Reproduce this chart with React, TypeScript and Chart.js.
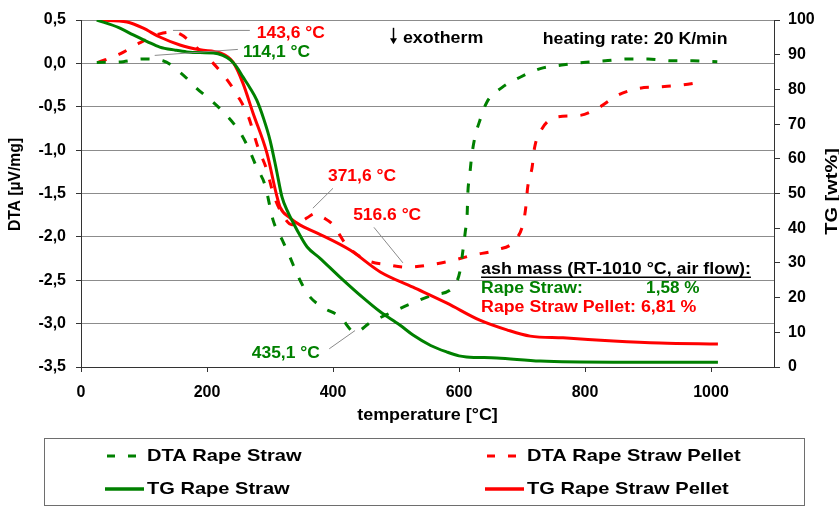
import React, { useEffect, useRef } from 'react';
import { Chart, registerables } from 'chart.js';

Chart.register(...registerables);

// ---------- data ----------
const tgStrawT = [25, 60, 83, 105, 125, 150, 168, 190, 210, 225, 237, 247, 257, 268, 279, 290, 300, 310, 319, 327, 337, 348, 359, 379, 411, 448, 475, 506, 527, 555, 581, 600, 612, 660, 729, 845, 930, 1011];
const tgStrawV = [100, 97.8, 95.7, 93.8, 92.2, 91.3, 90.8, 90.6, 90.5, 89.8, 88.5, 86.5, 83.6, 80.5, 76.9, 71.5, 65.4, 57, 49, 45.2, 41.5, 37.8, 34.6, 31.4, 25.9, 19.9, 15.9, 12.1, 9.2, 6.2, 4.3, 3.2, 2.9, 2.6, 1.7, 1.4, 1.4, 1.4];

const tgPelletT = [30, 73, 98, 125, 157, 189, 221, 241, 257, 273, 295, 310, 316, 332, 348, 375, 427, 475, 527, 581, 633, 676, 713, 765, 845, 919, 1011];
const tgPelletV = [100, 99.4, 97.7, 95.1, 92.8, 91.4, 90.5, 87.9, 81.8, 73.2, 61.7, 49.9, 46.1, 42.9, 40.9, 38.6, 33.7, 27.4, 23, 18.4, 13.5, 10.7, 8.9, 8.4, 7.5, 6.9, 6.6];

const dtaStrawT = [25, 67, 98, 130, 160, 184, 210, 231, 252, 266, 279, 292, 305, 321, 332, 345, 361, 383, 411, 435, 459, 490, 527, 559, 591, 602, 606, 610, 613, 614, 617, 620, 625, 633, 644, 668, 697, 729, 763, 797, 832, 867, 900, 938, 971, 1010];
const dtaStrawV = [0.01, 0.02, 0.05, 0.03, -0.12, -0.29, -0.45, -0.6, -0.79, -0.98, -1.2, -1.4, -1.81, -2.06, -2.24, -2.46, -2.67, -2.81, -2.92, -3.1, -2.99, -2.88, -2.76, -2.67, -2.58, -2.38, -2.17, -1.94, -1.73, -1.5, -1.29, -1.08, -0.86, -0.66, -0.45, -0.28, -0.16, -0.06, -0.02, 0.01, 0.03, 0.05, 0.05, 0.03, 0.03, 0.02];

const dtaPelletT = [27, 62, 94, 125, 144, 157, 184, 210, 231, 250, 266, 281, 295, 305, 318, 335, 350, 359, 372, 385, 400, 421, 454, 486, 517, 557, 591, 622, 660, 689, 702, 706, 709, 716, 720, 732, 755, 792, 824, 851, 884, 919, 954, 990];
const dtaPelletV = [0.01, 0.11, 0.24, 0.34, 0.36, 0.34, 0.18, 0.0, -0.18, -0.39, -0.62, -0.97, -1.23, -1.5, -1.72, -1.86, -1.82, -1.78, -1.73, -1.78, -1.86, -2.09, -2.27, -2.32, -2.35, -2.32, -2.27, -2.21, -2.15, -2.04, -1.84, -1.66, -1.43, -1.2, -0.97, -0.75, -0.62, -0.6, -0.5, -0.37, -0.29, -0.27, -0.25, -0.21];

const seriesLabels = ['DTA Rape Straw', 'DTA Rape Straw Pellet', 'TG Rape Straw', 'TG Rape Straw Pellet'];

const xTicks = [0, 200, 400, 600, 800, 1000];
const dtaTicks = [0.5, 0, -0.5, -1, -1.5, -2, -2.5, -3, -3.5];
const tgTicks = [0, 10, 20, 30, 40, 50, 60, 70, 80, 90, 100];

const GREEN = '#008000';
const RED = '#ff0000';
const FONT = "'Liberation Sans', Arial, sans-serif";

// peak annotations (temperature, DTA units)
const peakNotes = [
  { text: '143,6 °C', color: RED, t: 279, v: 0.345, from: [146, 0.38], to: [268, 0.38] },
  { text: '114,1 °C', color: GREEN, t: 257, v: 0.127, from: [117, 0.092], to: [249, 0.161] },
  { text: '371,6 °C', color: RED, t: 392, v: -1.3, from: [400, -1.44], to: [368, -1.67] },
  { text: '516.6 °C', color: RED, t: 432, v: -1.75, from: [465, -1.89], to: [511, -2.3] },
  { text: '435,1 °C', color: GREEN, t: 271, v: -3.34, from: [394, -3.29], to: [435, -3.08] },
];

const ashTitle = 'ash mass (RT-1010 °C, air flow):';
const ashStraw = ['Rape Straw:', '1,58 %'];
const ashPellet = 'Rape Straw Pellet: 6,81 %';

function drawText(ctx: CanvasRenderingContext2D, text: string, x: number, y: number, size: number, color: string, sx = 1, align: CanvasTextAlign = 'left', rot = 0) {
  ctx.save();
  ctx.translate(x, y);
  if (rot) ctx.rotate(rot);
  ctx.scale(sx, 1);
  ctx.font = `bold ${size}px ${FONT}`;
  ctx.fillStyle = color;
  ctx.textAlign = align;
  ctx.textBaseline = 'middle';
  ctx.fillText(text, 0, 0);
  const w = ctx.measureText(text).width * sx;
  ctx.restore();
  return w;
}

function line(ctx: CanvasRenderingContext2D, x1: number, y1: number, x2: number, y2: number, color: string, width: number, dash: number[] = []) {
  ctx.save();
  ctx.strokeStyle = color;
  ctx.lineWidth = width;
  ctx.setLineDash(dash);
  ctx.beginPath();
  ctx.moveTo(x1, y1);
  ctx.lineTo(x2, y2);
  ctx.stroke();
  ctx.restore();
}

const textPlugin = {
  id: 'textPlugin',
  afterDraw(chart: any) {
    const ctx: CanvasRenderingContext2D = chart.ctx;
    const xs = chart.scales.x;
    const ys = chart.scales.y;
    const px = (t: number) => xs.getPixelForValue(t);
    const py = (v: number) => ys.getPixelForValue(v);
    const area = chart.chartArea;

    // peak labels
    peakNotes.forEach((n) => {
      line(ctx, px(n.from[0]), py(n.from[1]), px(n.to[0]), py(n.to[1]), '#8a8a8a', 1);
      drawText(ctx, n.text, px(n.t), py(n.v), 16, n.color, 1.09);
    });

    // exotherm arrow
    const ax = Math.round(px(495)) + 0.5;
    const aTop = py(0.41);
    const aBot = py(0.22);
    line(ctx, ax, aTop, ax, aBot - 5, '#000', 1.5);
    ctx.save();
    ctx.fillStyle = '#000';
    ctx.beginPath();
    ctx.moveTo(ax - 3.5, aBot - 6);
    ctx.lineTo(ax + 3.5, aBot - 6);
    ctx.lineTo(ax, aBot);
    ctx.closePath();
    ctx.fill();
    ctx.restore();
    drawText(ctx, 'exotherm', px(511), py(0.288), 17, '#000', 1.05);
    drawText(ctx, 'heating rate: 20 K/min', px(733), py(0.276), 17, '#000', 1.04);

    // ash mass block
    const w = drawText(ctx, ashTitle, px(635), py(-2.38), 16, '#000', 1.115);
    line(ctx, px(635), py(-2.465), px(635) + w, py(-2.465), '#000', 1.5);
    drawText(ctx, ashStraw[0], px(635), py(-2.6), 16, GREEN, 1.1);
    drawText(ctx, ashStraw[1], px(897), py(-2.6), 16, GREEN, 1.07);
    drawText(ctx, ashPellet, px(635), py(-2.82), 16, RED, 1.11);

    // axis titles
    const midY = (area.top + area.bottom) / 2;
    drawText(ctx, 'DTA [µV/mg]', 16, midY - 9, 16, '#000', 0.98, 'center', -Math.PI / 2);
    drawText(ctx, 'TG [wt%]', 833, midY - 2, 16, '#000', 1.25, 'center', -Math.PI / 2);
    drawText(ctx, 'temperature [°C]', (area.left + area.right) / 2, 416, 16, '#000', 1.12, 'center');

    // legend box
    const bx = 44, by = 438, bw = 760, bh = 67;
    ctx.save();
    ctx.strokeStyle = '#6e6e6e';
    ctx.lineWidth = 1;
    ctx.strokeRect(bx + 0.5, by + 0.5, bw, bh);
    ctx.restore();
    const ds = chart.data.datasets;
    const entries = [
      { d: ds[0], x: 107, y: 456 },
      { d: ds[1], x: 487, y: 456 },
      { d: ds[2], x: 107, y: 489 },
      { d: ds[3], x: 487, y: 489 },
    ];
    entries.forEach((e) => {
      const dash = e.d.borderDash || [];
      if (dash.length) {
        line(ctx, e.x, e.y, e.x + 30, e.y, e.d.borderColor, 3, [8, 13]);
      } else {
        line(ctx, e.x - 2, e.y, e.x + 37, e.y, e.d.borderColor, 3.5);
      }
      drawText(ctx, e.d.label, e.x + 40, e.y, 17, '#000', 1.18);
    });
  },
};

export default function App() {
  const ref = useRef<HTMLCanvasElement>(null);
  useEffect(() => {
    const canvas = ref.current;
    if (!canvas) return;
    const pts = (t: number[], v: number[]) => t.map((x, i) => ({ x, y: v[i] }));
    const tickFont = { family: FONT, size: 16, weight: 'bold' as const };
    const chart = new Chart(canvas, {
      type: 'line',
      data: {
        datasets: [
          { label: seriesLabels[0], data: pts(dtaStrawT, dtaStrawV), yAxisID: 'y', borderColor: GREEN, borderDash: [9, 13], borderWidth: 3, pointRadius: 0, fill: false, cubicInterpolationMode: 'monotone', order: 2 },
          { label: seriesLabels[1], data: pts(dtaPelletT, dtaPelletV), yAxisID: 'y', borderColor: RED, borderDash: [9, 13], borderWidth: 3, pointRadius: 0, fill: false, cubicInterpolationMode: 'monotone', order: 3 },
          { label: seriesLabels[2], data: pts(tgStrawT, tgStrawV), yAxisID: 'y1', borderColor: GREEN, borderWidth: 3, pointRadius: 0, fill: false, cubicInterpolationMode: 'monotone', order: 0 },
          { label: seriesLabels[3], data: pts(tgPelletT, tgPelletV), yAxisID: 'y1', borderColor: RED, borderWidth: 3, pointRadius: 0, fill: false, cubicInterpolationMode: 'monotone', order: 1 },
        ],
      },
      options: {
        responsive: false,
        devicePixelRatio: 1,
        animation: false,
        events: [],
        layout: { padding: { top: 20, bottom: 121, left: 0, right: 0 } },
        plugins: { legend: { display: false }, tooltip: { enabled: false } },
        scales: {
          x: {
            type: 'linear',
            min: 0,
            max: 1100,
            afterBuildTicks: (s: any) => { s.ticks = xTicks.map((v) => ({ value: v })); },
            afterFit: (s: any) => { s.height = 30; },
            ticks: { font: tickFont, color: '#000', padding: 11, maxRotation: 0, callback: (v: any) => String(v) },
            grid: { drawOnChartArea: false, drawTicks: true, tickLength: 5, tickColor: '#333' },
            border: { display: true, color: '#333', width: 1 },
          },
          y: {
            type: 'linear',
            position: 'left',
            min: -3.5,
            max: 0.5,
            afterBuildTicks: (s: any) => { s.ticks = dtaTicks.map((v) => ({ value: v })); },
            afterFit: (s: any) => { s.width = 81; },
            ticks: { font: tickFont, color: '#000', padding: 10, callback: (v: any) => Number(v).toFixed(1).replace('.', ',') },
            grid: { color: '#8c8c8c', lineWidth: 1, drawTicks: true, tickLength: 5, tickColor: '#333' },
            border: { display: true, color: '#333', width: 1 },
          },
          y1: {
            type: 'linear',
            position: 'right',
            min: 0,
            max: 100,
            afterBuildTicks: (s: any) => { s.ticks = tgTicks.map((v) => ({ value: v })); },
            afterFit: (s: any) => { s.width = 65; },
            ticks: { font: tickFont, color: '#000', padding: 8, callback: (v: any) => String(v) },
            grid: { drawOnChartArea: false, drawTicks: true, tickLength: 6, tickColor: '#333' },
            border: { display: true, color: '#333', width: 1 },
          },
        },
      },
      plugins: [textPlugin],
    } as any);
    return () => chart.destroy();
  }, []);
  return (
    <div style={{ position: 'fixed', left: 0, top: 0, width: 839, height: 518, background: '#fff' }}>
      <canvas ref={ref} width={839} height={518} style={{ display: 'block', width: 839, height: 518 }} />
    </div>
  );
}
